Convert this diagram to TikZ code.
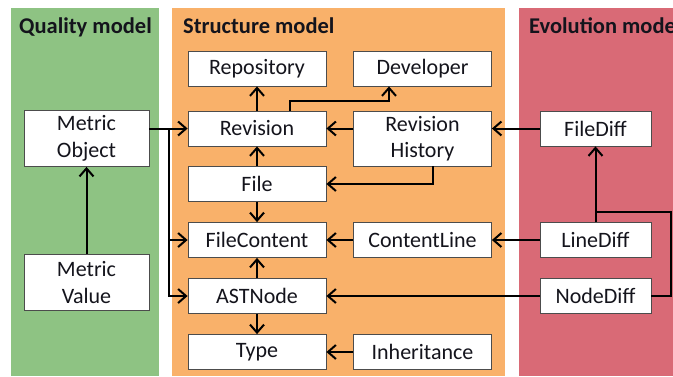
\documentclass[tikz,border=0pt]{standalone}
\usepackage{fontspec}
\setmainfont{Carlito}
\usetikzlibrary{arrows.meta,calc}
\definecolor{qualgreen}{RGB}{142,195,131}
\definecolor{structorange}{RGB}{249,177,106}
\definecolor{evored}{RGB}{217,106,118}
\definecolor{ink}{RGB}{20,20,28}
\tikzset{
  entity/.style={draw=black!70, line width=0.8pt, fill=white, text=ink,
    inner sep=0pt, align=center, font=\fontsize{22}{26.5}\selectfont},
  wide/.style={entity, minimum width=138pt, minimum height=35pt},
  widetall/.style={entity, minimum width=138pt, minimum height=55pt},
  metricbox/.style={entity, minimum width=125pt, minimum height=56pt},
  diffbox/.style={entity, minimum width=111pt, minimum height=35pt},
  paneltitle/.style={anchor=base west, inner sep=0pt, text=ink,
    font=\bfseries\fontsize{22.5}{26}\selectfont},
  link/.style={line width=2pt, draw=black},
  arr/.style={link, -{Straight Barb[length=8pt,width=14pt]}},
}
\begin{document}
\begin{tikzpicture}[x=1pt,y=-1pt]
\useasboundingbox (0,0) rectangle (673,376);
\clip (0,0) rectangle (673,376);

% model panels
\fill[qualgreen] (10.5,8) rectangle (159,376);
\fill[structorange] (172,8) rectangle (505,376);
\fill[evored] (519,8) rectangle (673,376);
\node[paneltitle] (tq) at (19,33) {Quality model};
\node[paneltitle] (ts) at (183,33) {Structure model};
\node[paneltitle] (te) at (529,33) {Evolution model};

% quality model
\node[metricbox] (mo) at (86.5,138.5) {Metric\\Object};
\node[metricbox] (mv) at (86.5,282.5) {Metric\\Value};

% structure model
\node[wide] (repo) at (257,68.5) {Repository};
\node[wide] (rev)  at (257,128.5) {Revision};
\node[wide] (file) at (257,184) {File};
\node[wide] (fc)   at (257,240) {FileContent};
\node[wide] (ast)  at (257,296) {ASTNode};
\node[wide] (type) at (257,352) {Type};
\node[wide] (dev)  at (422.5,68.5) {Developer};
\node[widetall] (rh) at (422.5,138.5) {Revision\\History};
\node[wide] (cl)   at (422.5,240) {ContentLine};
\node[wide] (inh)  at (422.5,352) {Inheritance};

% evolution model
\node[diffbox] (fd) at (595.5,128.5) {FileDiff};
\node[diffbox] (ld) at (595.5,240) {LineDiff};
\node[diffbox] (nd) at (595.5,296) {NodeDiff};

% structure links
\draw[arr] (rev) -- (repo);
\draw[arr] ([xshift=33pt]rev.north) -- ++(0,-9.5) -| ([xshift=-33.5pt]dev.south);
\draw[arr] (rh.west |- rev.east) -- (rev.east);
\draw[arr] ([xshift=10.5pt]rh.south) |- (file.east);
\draw[arr] (file) -- (rev);
\draw[arr] (file) -- (fc);
\draw[arr] (ast) -- (fc);
\draw[arr] (ast) -- (type);
\draw[arr] (cl) -- (fc);
\draw[arr] (inh) -- (type);

% metric links
\draw[arr] (mv) -- (mo);
\coordinate (bus) at ($(mo.east |- rev.west)!0.5!(rev.west)$);
\draw[arr] (mo.east |- rev.west) -- (rev.west);
\draw[arr] (bus) |- (fc.west);
\draw[arr] (bus) |- (ast.west);

% evolution links
\draw[arr] (fd) -- (fd.west -| rh.east);
\draw[arr] (ld) -- (cl);
\draw[arr] (nd) -- (ast);
\draw[arr] (ld) -- (fd);
\draw[link] (nd.east) -- ++(20,0) |- ($(ld.north)+(0,-10)$);
\end{tikzpicture}
\end{document}
